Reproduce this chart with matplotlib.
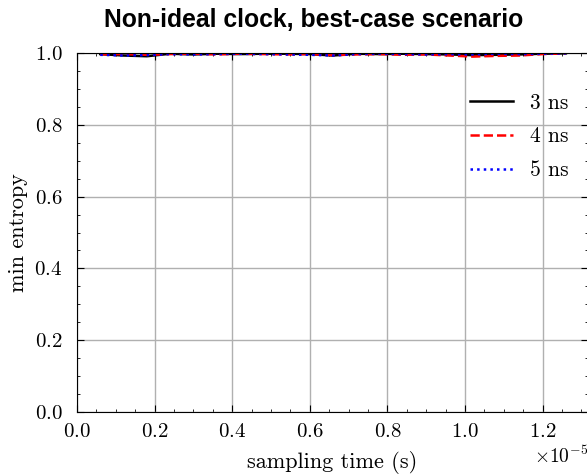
import matplotlib
matplotlib.use("Agg")
import matplotlib.pyplot as plt
from matplotlib.ticker import AutoMinorLocator

plt.rcParams.update({
    "font.family": "serif",
    "font.serif": ["cmr10"],
    "mathtext.fontset": "cm",
    "axes.formatter.use_mathtext": True,
    "axes.unicode_minus": False,
    "font.size": 15,
    "xtick.labelsize": 15,
    "ytick.labelsize": 15,
    "xtick.direction": "in",
    "ytick.direction": "in",
    "xtick.top": True,
    "ytick.right": True,
    "xtick.major.size": 5,
    "ytick.major.size": 5,
    "xtick.minor.size": 2.5,
    "ytick.minor.size": 2.5,
    "xtick.major.pad": 8,
    "ytick.major.pad": 10.5,
    "xtick.minor.visible": True,
    "ytick.minor.visible": True,
})

# sampling times (s) and min-entropy per clock jitter setting
sampling_time = [0.06e-5, 0.12e-5, 0.18e-5, 0.24e-5, 0.30e-5, 0.36e-5, 0.42e-5,
                 0.48e-5, 0.54e-5, 0.60e-5, 0.66e-5, 0.72e-5, 0.78e-5, 0.84e-5,
                 0.90e-5, 0.96e-5, 1.02e-5, 1.08e-5, 1.14e-5, 1.20e-5, 1.26e-5]
entropy_3ns = [0.997, 0.993, 0.991, 0.998, 0.996, 0.998, 0.997, 0.998, 0.998, 0.997,
               0.993, 0.998, 0.997, 0.998, 0.997, 0.996, 0.994, 0.995, 0.996, 0.998, 0.999]
entropy_4ns = [0.996, 0.997, 0.995, 0.997, 0.998, 0.996, 0.998, 0.997, 0.996, 0.997,
               0.994, 0.996, 0.997, 0.995, 0.996, 0.993, 0.990, 0.992, 0.993, 0.997, 0.999]
entropy_5ns = [0.995, 0.993, 0.994, 0.997, 0.996, 0.997, 0.998, 0.997, 0.996, 0.995,
               0.993, 0.997, 0.998, 0.997, 0.996, 0.997, 0.996, 0.998, 0.997, 0.998, 0.999]
series_labels = ["3 ns", "4 ns", "5 ns"]

fig = plt.figure(figsize=(5.87, 4.75), dpi=100)
ax = fig.add_axes([77 / 587, 63 / 475, 511 / 587, 359 / 475])

ax.plot(sampling_time, entropy_3ns, color="black", linestyle="-", lw=1.8, label=series_labels[0])
ax.plot(sampling_time, entropy_4ns, color="red", linestyle="--", lw=1.8, label=series_labels[1])
ax.plot(sampling_time, entropy_5ns, color="blue", linestyle=":", lw=1.8, label=series_labels[2])

ax.set_xlim(0, 1.317e-5)
ax.set_ylim(0, 1.0)
ax.xaxis.set_minor_locator(AutoMinorLocator(4))
ax.yaxis.set_minor_locator(AutoMinorLocator(4))
ax.grid(True, which="major", color="#b0b0b0", lw=1.0)
ax.set_axisbelow(True)
ax.set_xlabel("sampling time (s)", fontsize=16)
ax.set_ylabel("min entropy", fontsize=16)
ax.yaxis.set_label_coords(-49 / 511, 0.5)
ax.xaxis.set_label_coords(0.5, -39 / 359)
ax.xaxis.get_offset_text().set_fontsize(14)
ax.legend(loc="upper right", bbox_to_anchor=(1.0, 0.942), frameon=False,
          handlelength=2.0, labelspacing=0.66, fontsize=15.5)

fig.text(314 / 587, 1 - 20 / 475, "Non-ideal clock, best-case scenario",
         ha="center", va="center", fontsize=17.8, fontweight="bold",
         family="Liberation Sans")

fig.savefig("out.png", dpi=100)
